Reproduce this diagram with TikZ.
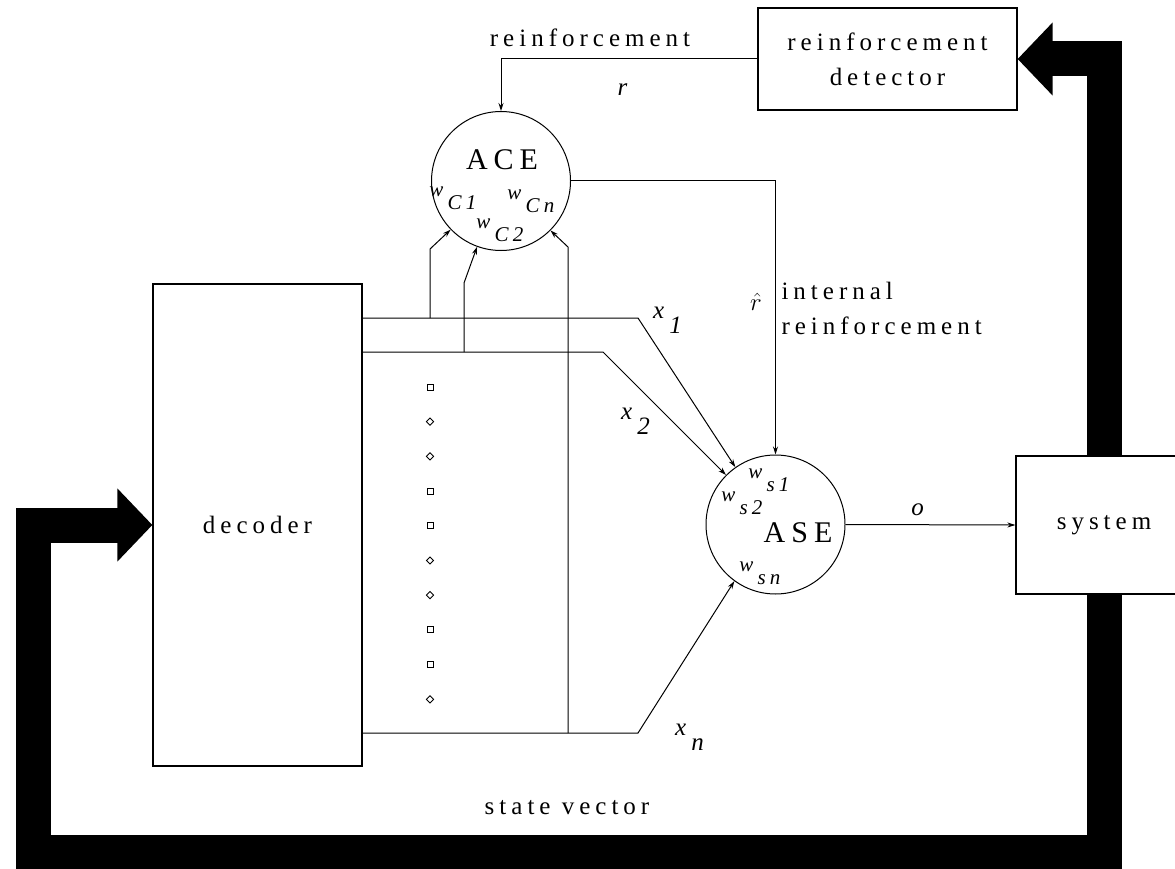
\documentclass[tikz,border=0pt]{standalone}
\usepackage{fontspec}
\setmainfont{Liberation Serif}[LetterSpace=20]
\usetikzlibrary{arrows.meta, positioning}

\newcommand{\lowsub}[2]{\textit{#1}\raisebox{-0.6em}{\textit{#2}}}

\begin{document}
\begin{tikzpicture}[x=1pt, y=-1pt, >=Stealth,
  every node/.style={font=\fontsize{25}{35}\selectfont},
  block/.style={draw, line width=1.2pt, inner sep=0pt},
  unit/.style={draw, circle, line width=1pt, minimum size=139pt, inner sep=0pt},
  big/.style={font=\fontsize{30}{35}\selectfont},
  wlbl/.style={font=\fontsize{21}{24}\selectfont, inner sep=0pt},
  sig/.style={-{Stealth[length=8pt, width=5pt]}, line width=1pt},
  statebar/.style={line width=35pt, -{Triangle[length=35pt, width=71pt]}}]
  \useasboundingbox (0,0) rectangle (1175,869);
  \node[block, minimum width=209pt, minimum height=482pt] (decoder) at (257.5,525) {\raisebox{-6pt}{decoder}};
  \node[block, minimum width=259pt, minimum height=102pt, align=center] (detector) at (887.5,59) {reinforcement\\detector};
  \node[block, minimum width=176pt, minimum height=138pt] (system) at (1104,525) {\raisebox{-6pt}{system}};
  \node[unit] (ACE) at (501,181) {};
  \node[unit] (ASE) at (775.5,524.5) {};
  \node[big] at (502,160) {ACE};
  \node[big] at (798,533) {ASE};
  \node[wlbl] at (455,198) {\lowsub{w}{C1}};
  \node[wlbl] at (502,230) {\lowsub{w}{C2}};
  \node[wlbl] at (533,201) {\lowsub{w}{Cn}};
  \node[wlbl] at (771,480) {\lowsub{w}{s1}};
  \node[wlbl] at (744,503) {\lowsub{w}{s2}};
  \node[wlbl] at (762,573) {\lowsub{w}{sn}};

  \coordinate (sv) at (33,852);
  \draw[statebar] (system.south) |- (sv) |- (decoder.west);
  \draw[statebar] (system.north) |- (detector.east);
  \node at (567,808) {state vector};

  \draw[sig] (detector.west) -| (ACE.north);
  \node at (590,38) {reinforcement};
  \node at (625,90) {\textit{r}};
  \draw[sig] (ACE.east) -| (ASE.north);
  \node[font=\fontsize{28}{30}\selectfont] at (756,302) {$\hat{r}$};
  \node[anchor=west, align=left] at (778,308) {internal\\reinforcement};
  \draw[sig] (ASE.east) -- (system.west);
  \node at (920,510) {\textit{o}};

  \coordinate (b1) at (638,318);
  \coordinate (b2) at (603,352);
  \coordinate (bn) at (638,733);
  \draw[sig] (decoder.east |- b1) -- (b1) -- (ASE.125);
  \draw[sig] (decoder.east |- b2) -- (b2) -- (ASE.135);
  \draw[sig] (decoder.east |- bn) -- (bn) -- (ASE.234);
  \node at (670,320) {\lowsub{x}{1}};
  \node at (638,421) {\lowsub{x}{2}};
  \node at (692,737) {\lowsub{x}{n}};

  \coordinate (j1) at (430,318);
  \coordinate (j2) at (464,352);
  \coordinate (j3) at (568,733);
  \draw[sig] (j1) -- ++(0,-69) -- (ACE.224);
  \draw[sig] (j2) -- ++(0,-69) -- (ACE.250);
  \draw[sig] (j3) -- ++(0,-486) -- (ACE.315);

  \foreach \y in {387,491.1,525.8,629.9,664.6}
    \draw[line width=0.9pt] (430,\y) ++(-3,-3) rectangle ++(6,6);
  \foreach \y in {421.7,456.4,560.5,595.2,699.3}
    \draw[line width=0.9pt] (430,\y) +(0,-3.6) -- +(3.6,0) -- +(0,3.6) -- +(-3.6,0) -- cycle;
\end{tikzpicture}
\end{document}
